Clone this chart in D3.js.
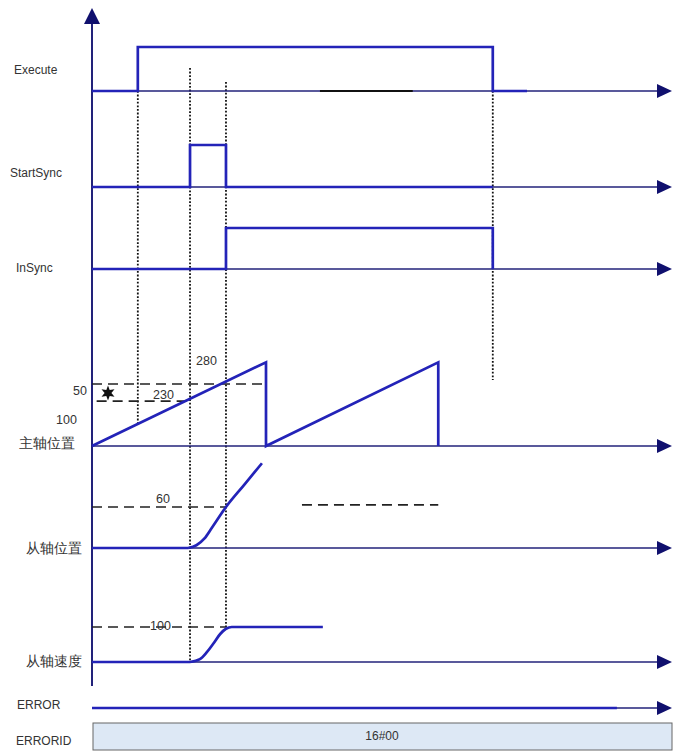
<!DOCTYPE html>
<html>
<head>
<meta charset="utf-8">
<script src="https://cdn.jsdelivr.net/npm/d3@7"></script>
<style>
  body { margin: 0; background: #fff; }
  text { font-family: "Liberation Sans", Arial, sans-serif; fill: #333; }
</style>
</head>
<body>
<svg id="chart" width="682" height="751"></svg>
<script>
// time axis in arbitrary units (0..100)
const rowNames = ["Execute", "StartSync", "InSync", "主轴位置", "从轴位置", "从轴速度", "ERROR"];

// boolean signals
const executeT = [0, 7.9, 7.9, 69.1, 69.1, 75.0];
const executeV = [0, 0, 1, 1, 0, 0];
const startSyncT = [0, 16.9, 16.9, 23.1, 23.1, 69.1];
const startSyncV = [0, 0, 1, 1, 0, 0];
const inSyncT = [0, 23.1, 23.1, 69.1, 69.1];
const inSyncV = [0, 0, 1, 1, 0];
const errorT = [0, 90.5];
const errorV = [0, 0];

// master axis position
const masterT = [0, 30, 30, 59.7, 59.7];
const masterPos = [100, 343, 100, 343, 100];

// slave axis position
const slaveT = [0, 16.6, 18.0, 19.4, 20.7, 23.1, 26.2, 29.3];
const slavePos = [0, 0, 4, 14, 30, 60, 92, 124];

// slave axis velocity
const velT = [0, 16.9, 18.6, 19.8, 20.9, 22.1, 23.1, 24.1, 39.8];
const velV = [0, 0, 8, 28, 52, 80, 95, 100, 100];

// reference (dashed) levels
const masterRefs = [{v: 280, t0: 0, t1: 30}, {v: 230, t0: 0.8, t1: 16.9}];
const slaveRefs = [{v: 60, t0: 0, t1: 23.1}, {v: 63, t0: 36.2, t1: 59.7}];
const velRefs = [{v: 100, t0: 0, t1: 23.1}];

// dotted time markers
const markerT = [7.9, 16.9, 23.1, 69.1];

const errorId = "16#00";

var svg = d3.select("#chart");
var navy = "#22227a", blue = "#2323b8";

var x = d3.scaleLinear().domain([0, 100]).range([92, 672]);

// layout: baselines of each row
var base = {exe: 91, ss: 187, ins: 269, mp: 446, sp: 548, sv: 662, err: 708};
var yExe = d3.scaleLinear().domain([0, 1]).range([base.exe, base.exe - 44]);
var ySS = d3.scaleLinear().domain([0, 1]).range([base.ss, base.ss - 42]);
var yIns = d3.scaleLinear().domain([0, 1]).range([base.ins, base.ins - 41]);
var yErr = d3.scaleLinear().domain([0, 1]).range([base.err, base.err - 40]);
var yMp = d3.scaleLinear().domain([100, 280]).range([base.mp, 384]);
var ySp = d3.scaleLinear().domain([0, 60]).range([base.sp, 507]);
var ySv = d3.scaleLinear().domain([0, 100]).range([base.sv, 627]);

//dotted markers, drawn first
var rampAtFirst = masterPos[0] + (masterPos[1] - masterPos[0]) * markerT[0] / masterT[1];
var markerSpan = [[yExe(0), yMp(rampAtFirst)], [68, ySv(0)], [82, ySv(100)], [yExe(0), 380]];
svg.selectAll(".marker")
  .data(markerT)
  .enter()
  .append("line")
  .attr("class", "marker")
  .attr("x1", d => x(d)).attr("x2", d => x(d))
  .attr("y1", (d, i) => markerSpan[i][0])
  .attr("y2", (d, i) => markerSpan[i][1])
  .attr("stroke", "#111")
  .attr("stroke-width", 1.8)
  .attr("stroke-dasharray", "1.8,1.8");

// time axes with arrows
var axisRows = [base.exe, base.ss, base.ins, base.mp, base.sp, base.sv, base.err];
svg.selectAll(".taxis")
  .data(axisRows)
  .enter()
  .append("line")
  .attr("x1", x(0)).attr("x2", x(100) - 8)
  .attr("y1", d => d).attr("y2", d => d)
  .attr("stroke", navy)
  .attr("stroke-width", 1.6);
svg.selectAll(".tarrow")
  .data(axisRows)
  .enter()
  .append("path")
  .attr("d", d => "M" + (x(100) - 15) + "," + (d - 7) + "L" + x(100) + "," + d + "L" + (x(100) - 15) + "," + (d + 7) + "Z")
  .attr("fill", "#10106e");

// vertical axis
svg.append("line")
  .attr("x1", x(0)).attr("x2", x(0))
  .attr("y1", 20).attr("y2", 686)
  .attr("stroke", navy)
  .attr("stroke-width", 2);
svg.append("path")
  .attr("d", "M" + (x(0) - 8) + ",24L" + x(0) + ",8L" + (x(0) + 8) + ",24Z")
  .attr("fill", "#10106e");

// dashed reference lines
function refLines(refs, y){
  svg.selectAll(null)
    .data(refs)
    .enter()
    .append("line")
    .attr("x1", d => x(d.t0)).attr("x2", d => x(d.t1))
    .attr("y1", d => y(d.v)).attr("y2", d => y(d.v))
    .attr("stroke", "#222")
    .attr("stroke-width", 1.7)
    .attr("stroke-dasharray", "10,6");
}
refLines(masterRefs, yMp);
refLines(slaveRefs, ySp);
refLines(velRefs, ySv);

// signal lines
function signal(ts, vs, y, curve){
  var pts = ts.map((t, i) => [t, vs[i]]);
  var line = d3.line().x(d => x(d[0])).y(d => y(d[1])).curve(curve || d3.curveLinear);
  svg.append("path")
    .attr("d", line(pts))
    .attr("fill", "none")
    .attr("stroke", blue)
    .attr("stroke-width", 2.7)
    .attr("stroke-linejoin", "miter");
}
signal(executeT, executeV, yExe);
signal(startSyncT, startSyncV, ySS);
signal(inSyncT, inSyncV, yIns);
signal(errorT, errorV, yErr);
signal(masterT, masterPos, yMp);
signal(slaveT.slice(0, 2), slavePos.slice(0, 2), ySp);
signal(slaveT.slice(1), slavePos.slice(1), ySp, d3.curveMonotoneX);
signal(velT.slice(0, 2), velV.slice(0, 2), ySv);
signal(velT.slice(1), velV.slice(1), ySv, d3.curveMonotoneX);

// small dark segment on Execute axis
svg.append("line")
  .attr("x1", x(39.3)).attr("x2", x(55.3))
  .attr("y1", base.exe).attr("y2", base.exe)
  .attr("stroke", "#111").attr("stroke-width", 1.8);

// row labels
var labelPos = [[14, 71], [10, 174], [16, 269], [19, 444], [26, 549], [26, 662], [17, 706]];
svg.selectAll(".rowlabel")
  .data(rowNames)
  .enter()
  .append("text")
  .attr("x", (d, i) => labelPos[i][0])
  .attr("y", (d, i) => labelPos[i][1])
  .attr("dominant-baseline", "middle")
  .attr("font-size", (d, i) => (i >= 3 && i <= 5) ? 13.5 : 12)
  .text(d => d);
svg.append("text")
  .attr("x", 16).attr("y", 742)
  .attr("dominant-baseline", "middle")
  .attr("font-size", 12)
  .text("ERRORID");

// value annotations
var notes = [
  {t: "280", x: 196, y: 362}, {t: "230", x: 153, y: 396},
  {t: "50", x: 73, y: 392}, {t: "100", x: 56, y: 421},
  {t: "60", x: 156, y: 500}, {t: "100", x: 150, y: 627}
];
svg.selectAll(".note")
  .data(notes)
  .enter()
  .append("text")
  .attr("x", d => d.x).attr("y", d => d.y)
  .attr("dominant-baseline", "middle")
  .attr("font-size", 12.5)
  .text(d => d.t);

// six-pointed star between 230 and 280
var starPts = d3.range(12).map(i => {
  var a = i * Math.PI / 6;
  var r = i % 2 ? 3.4 : 7.5;
  return [Math.sin(a) * r, -Math.cos(a) * r];
});
svg.append("path")
  .attr("d", "M" + starPts.join("L") + "Z")
  .attr("transform", "translate(108,393)")
  .attr("fill", "#111");

// ERRORID box
svg.append("rect")
  .attr("x", x(0) + 1).attr("y", 723)
  .attr("width", x(100) - x(0) - 1).attr("height", 27)
  .attr("fill", "#dde8f5")
  .attr("stroke", "#666")
  .attr("stroke-width", 1);
svg.append("text")
  .attr("x", (x(0) + x(100)) / 2).attr("y", 737)
  .attr("text-anchor", "middle")
  .attr("dominant-baseline", "middle")
  .attr("font-size", 12)
  .text(errorId);
</script>
</body>
</html>
